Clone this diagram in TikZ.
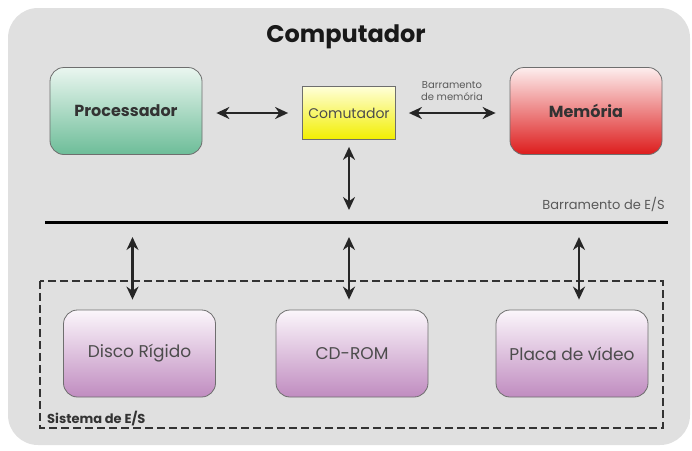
\documentclass[tikz,border=0pt]{standalone}
\usepackage{fontspec}
\setmainfont{Poppins}
\usetikzlibrary{arrows.meta}

\definecolor{fundo}{HTML}{E0E0E0}
\definecolor{borda}{HTML}{6E6E6E}
\definecolor{texto}{HTML}{333333}
\definecolor{verdeA}{HTML}{EAF6F0}
\definecolor{verdeB}{HTML}{6DBD98}
\definecolor{vermA}{HTML}{FDEEEE}
\definecolor{vermB}{HTML}{DD1C1C}
\definecolor{amarA}{HTML}{FFFFD8}
\definecolor{amarB}{HTML}{F2EE00}
\definecolor{roxoA}{HTML}{FBF6FB}
\definecolor{roxoB}{HTML}{C08CC0}

\tikzset{
  caixa/.style={draw=borda, line width=0.8pt, rounded corners=14pt,
    minimum width=152pt, minimum height=87pt, text=texto},
  caixaes/.style={caixa, top color=roxoA, bottom color=roxoB,
    text=black!70, font=\fontsize{17}{19}\selectfont},
  conn/.style={{Stealth[length=13pt,width=12pt]}-{Stealth[length=13pt,width=12pt]},
    line width=2.2pt, draw=black!85},
  rotulo/.style={text=black!65, inner sep=0pt},
}

\begin{document}
\begin{tikzpicture}[x=1pt,y=-1pt]

\useasboundingbox (0,0) rectangle (692,450);
\fill[fundo, rounded corners=30pt] (8,8) rectangle (690,445);

\node[text=black!90, font=\fontsize{24}{27}\selectfont\bfseries] (titulo) at (346,37) {Computador};

% parte de cima
\node[caixa, top color=verdeA, bottom color=verdeB, font=\fontsize{16}{18}\selectfont\bfseries] (proc) at (126,111) {Processador};
\node[caixa, top color=vermA, bottom color=vermB, font=\fontsize{16}{18}\selectfont\bfseries] (mem) at (586,111) {Memória};
\node[draw=borda, line width=0.8pt, top color=amarA, bottom color=amarB, minimum width=93pt, minimum height=53pt,
  text=black!70, font=\fontsize{14}{16}\selectfont] (comut) at (349,113) {Comutador};

\draw[conn, shorten <=14pt, shorten >=14pt] (proc.east |- comut.center) -- (comut);
\draw[conn, shorten <=13pt, shorten >=14pt] (comut) -- (mem.west |- comut.center);
\node[rotulo, align=center, font=\fontsize{10}{12}\selectfont] (lblmem) at (452,91) {Barramento\\de memória};

% barramento de E/S
\coordinate (busL) at (45,222);
\coordinate (busR) at (668,222);
\draw[line width=3pt] (busL) -- (busR);
\node[rotulo, anchor=base east, font=\fontsize{13}{15}\selectfont] (lblbus) at (665,209) {Barramento de E/S};
\draw[conn, shorten <=7pt, shorten >=12pt] (comut) -- (comut |- busL);

% sistema de E/S
\draw[black!80, line width=1.5pt, dash pattern=on 8pt off 4pt] (40,281) rectangle (663,428);
\node[anchor=base west, text=texto, inner sep=0pt, font=\fontsize{13}{15}\selectfont\bfseries] (lblsis) at (47,423) {Sistema de E/S};

\node[caixaes] (disco) at (139.5,353.5) {Disco Rígido};
\node[caixaes] (cdrom) at (352,353.5) {CD-ROM};
\node[caixaes] (placa) at (572,353.5) {Placa de vídeo};

\draw[conn, shorten <=15pt, shorten >=10pt] ([xshift=-7pt]disco.north |- busL) -- ([xshift=-7pt]disco.north);
\draw[conn, shorten <=15pt, shorten >=10pt] ([xshift=-3pt]cdrom.north |- busL) -- ([xshift=-3pt]cdrom.north);
\draw[conn, shorten <=15pt, shorten >=10pt] ([xshift=7pt]placa.north |- busL) -- ([xshift=7pt]placa.north);

\end{tikzpicture}
\end{document}
